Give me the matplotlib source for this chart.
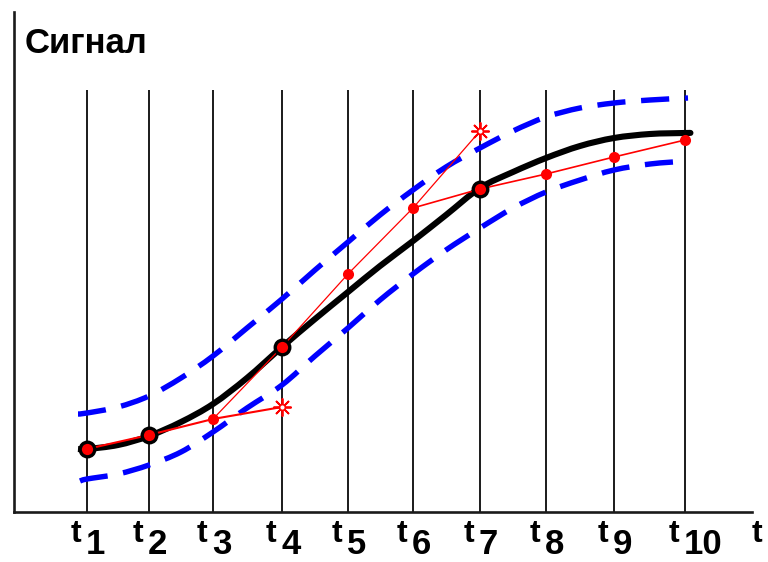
import matplotlib
matplotlib.use("Agg")
import matplotlib.pyplot as plt
from matplotlib.path import Path
from matplotlib.patches import PathPatch

# ---------------- data (pixel-like units: x from the signal axis, y up from time axis)
t_labels = ["1", "2", "3", "4", "5", "6", "7", "8", "9", "10"]
t_x = [73, 135, 199, 268, 334, 399, 466, 532, 600, 671]

# true signal (smooth black curve)
sig_x = [64, 73, 104, 135, 167, 199, 233, 268, 301, 334, 366, 399, 432, 466, 499, 532, 566, 600, 636, 671, 676]
sig_y = [63, 63, 67, 76, 90, 108, 134, 165, 193, 220, 246, 271, 297, 324, 340, 354, 366, 374, 378, 379, 379]

# upper / lower bounds (blue dashed)
up_x = [64, 73, 104, 135, 167, 199, 233, 268, 301, 334, 366, 399, 432, 466, 499, 532, 566, 600, 636, 674]
up_y = [98, 99, 105, 116, 134, 156, 184, 213, 242, 270, 297, 322, 345, 364, 381, 395, 404, 409, 412, 414]
lo_x = [66, 73, 104, 135, 167, 199, 233, 268, 301, 334, 366, 399, 432, 466, 499, 532, 566, 600, 636, 673]
lo_y = [31, 33, 38, 47, 60, 80, 104, 127, 156, 184, 212, 238, 262, 284, 304, 320, 332, 342, 348, 351]

# measured values at each t
meas_y = [63, 77, 93, 165, 238, 304, 323, 338, 355, 372]
key_idx = [0, 1, 3, 6]            # large circles
dot_idx = [2, 4, 5, 7, 8, 9]      # small dots
# predictions (stars)
pred_idx = [3, 6]
pred_y = [105, 381]
# prediction paths: (start index, end index, predicted index)
paths = [(0, 2, 0), (2, 5, 1)]
tail_start = 5

RED = "#ff0000"
BLUE = "#0000ff"
DARK = "#1a1a1a"


def smooth_path(xs, ys):
    """Smooth curve through the given points (Catmull-Rom drawn as cubic Beziers)."""
    pts = list(zip(xs, ys))
    verts = [pts[0]]
    codes = [Path.MOVETO]
    n = len(pts)
    for i in range(n - 1):
        p0 = pts[i - 1] if i > 0 else pts[i]
        p1 = pts[i]
        p2 = pts[i + 1]
        p3 = pts[i + 2] if i + 2 < n else pts[i + 1]
        c1 = (p1[0] + (p2[0] - p0[0]) / 6.0, p1[1] + (p2[1] - p0[1]) / 6.0)
        c2 = (p2[0] - (p3[0] - p1[0]) / 6.0, p2[1] - (p3[1] - p1[1]) / 6.0)
        verts += [c1, c2, p2]
        codes += [Path.CURVE4] * 3
    return Path(verts, codes)


fig = plt.figure(figsize=(7.68, 5.62), dpi=100)
ax = fig.add_axes([0, 0, 1, 1])
ax.set_xlim(-14, 754)
ax.set_ylim(-50, 512)
ax.set_xticks([])
ax.set_yticks([])
for s in ["top", "right"]:
    ax.spines[s].set_visible(False)
ax.spines["left"].set_position(("data", 0))
ax.spines["bottom"].set_position(("data", 0))
ax.spines["left"].set_bounds(0, 500)
ax.spines["bottom"].set_bounds(0, 738)
for s in ["left", "bottom"]:
    ax.spines[s].set_linewidth(1.9)
    ax.spines[s].set_color(DARK)

# vertical time lines
ax.vlines(t_x, 0, 422, color=DARK, lw=1.4, zorder=1)

# bounds
for xs, ys in [(up_x, up_y), (lo_x, lo_y)]:
    pp = PathPatch(smooth_path(xs, ys), facecolor="none", edgecolor=BLUE, lw=3.9,
                   linestyle=(0, (5.2, 2.9)), capstyle="butt", zorder=2)
    ax.add_patch(pp)

# true signal
ax.add_patch(PathPatch(smooth_path(sig_x, sig_y), facecolor="none", edgecolor="black",
                       lw=4.4, joinstyle="round", capstyle="butt", zorder=3))

# prediction paths
for (a, b, p), lw in zip(paths, [1.5, 0.9]):
    xs = [t_x[i] for i in range(a, b + 1)] + [t_x[pred_idx[p]]]
    ys = [meas_y[i] for i in range(a, b + 1)] + [pred_y[p]]
    ax.plot(xs, ys, color=RED, lw=lw, zorder=4)
ax.plot(t_x[tail_start:], meas_y[tail_start:], color=RED, lw=1.2, zorder=4)

# markers
ax.plot([t_x[i] for i in dot_idx], [meas_y[i] for i in dot_idx], "o", color=RED,
        ms=8.0, mew=0, zorder=5, ls="none")
ax.plot([t_x[i] for i in key_idx], [meas_y[i] for i in key_idx], "o", mfc=RED, mec="black",
        ms=10.5, mew=2.4, zorder=6, ls="none")
ax.plot([t_x[i] for i in pred_idx], pred_y, marker=(8, 2, 0), color=RED, ms=13, mew=1.3,
        ls="none", zorder=6)
ax.plot([t_x[i] for i in pred_idx], pred_y, "o", mfc="white", mec=RED, ms=4, mew=1.0,
        ls="none", zorder=7)

# labels
FONT = "Liberation Sans"
for x, lab in zip(t_x, t_labels):
    ax.text(x - 6, -30, "t", ha="right", va="baseline", fontsize=23, fontweight="bold",
            family=FONT, clip_on=False)
    ax.text(x - 1, -49, lab, ha="left", va="bottom", fontsize=25, fontweight="bold",
            family=FONT, clip_on=False)
ax.text(738, -30, "t", ha="left", va="baseline", fontsize=23, fontweight="bold", family=FONT)
ax.text(11, 459, "Сигнал", ha="left", va="baseline", fontsize=25, fontweight="bold", family=FONT)

fig.savefig("out.png", dpi=100)
